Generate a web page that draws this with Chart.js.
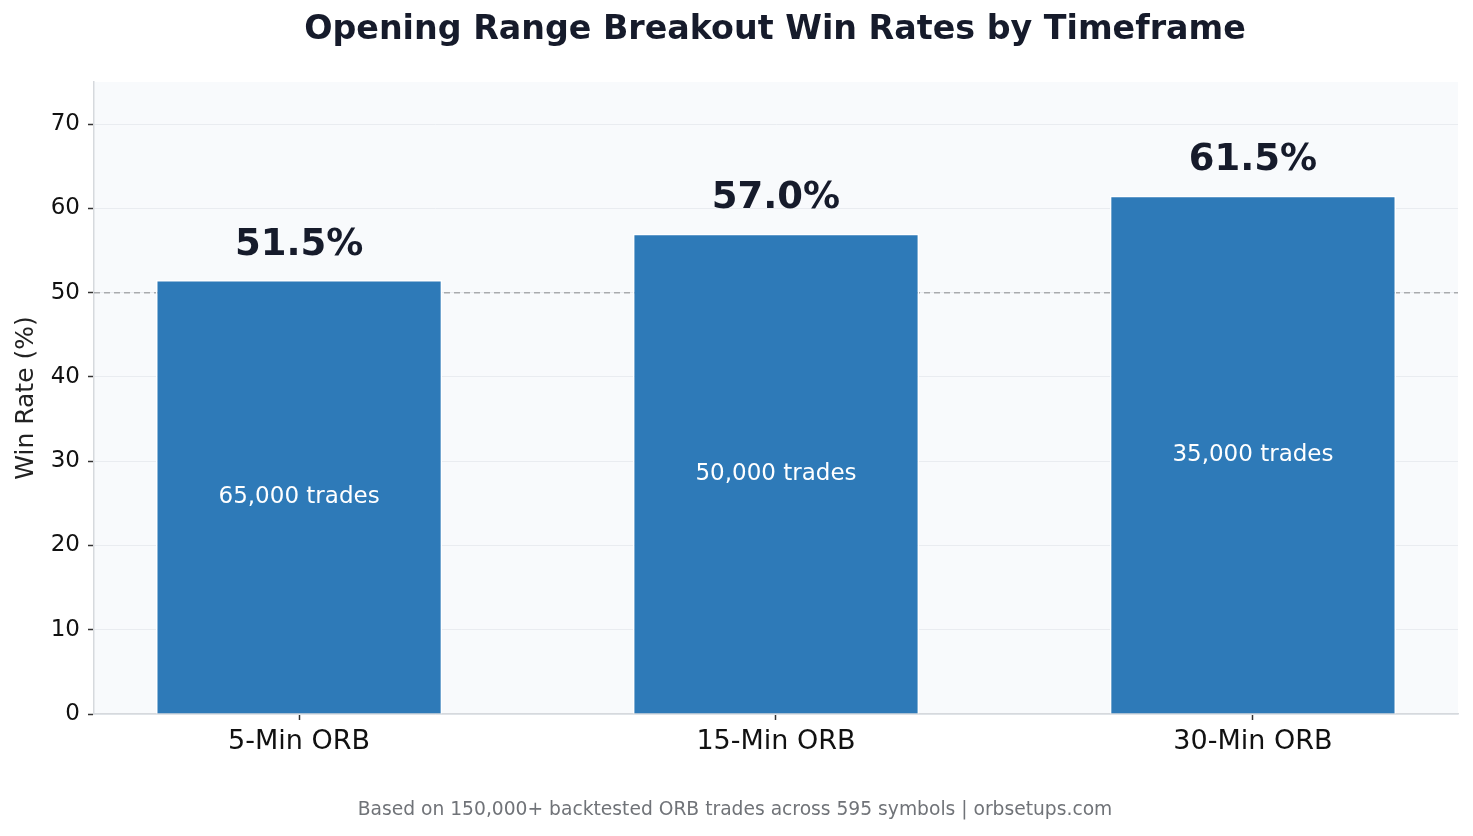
<!DOCTYPE html>
<html>
<head>
<meta charset="utf-8">
<script src="https://cdn.jsdelivr.net/npm/chart.js@4.4.1/dist/chart.umd.min.js"></script>
<style>
  html, body { margin: 0; padding: 0; background: #ffffff; }
  #wrap { width: 1473px; height: 836px; }
</style>
</head>
<body>
<div id="wrap"><canvas id="orbChart" width="1473" height="836"></canvas></div>
<script>
// data
const timeframes = ["5-Min ORB", "15-Min ORB", "30-Min ORB"];
const winRates = [51.5, 57.0, 61.5];
const tradeCounts = ["65,000 trades", "50,000 trades", "35,000 trades"];
const yTicks = [0, 10, 20, 30, 40, 50, 60, 70];

const chartTitle = "Opening Range Breakout Win Rates by Timeframe";
const footNote = "Based on 150,000+ backtested ORB trades across 595 symbols | orbsetups.com";
const FONT = "'DejaVu Sans', 'Liberation Sans', sans-serif";

const points = [];
winRates.forEach((v, i) => {
    points.push({ x: i, y: v });
});

// fond du graphique, ligne 50% et textes
const decorPlugin = {
    id: 'decor',
    beforeDraw(chart) {
        const ctx = chart.ctx;
        const a = chart.chartArea;
        ctx.save();
        ctx.fillStyle = '#ffffff';
        ctx.fillRect(0, 0, chart.width, chart.height);
        ctx.fillStyle = '#f8fafc';
        ctx.fillRect(a.left, a.top, a.right - a.left, a.bottom - a.top);
        ctx.restore();
    },
    beforeDatasetsDraw(chart) {
        const ctx = chart.ctx;
        const a = chart.chartArea;
        const y = chart.scales.y.getPixelForValue(50);
        ctx.save();
        ctx.strokeStyle = '#a9abae';
        ctx.lineWidth = 1.5;
        ctx.setLineDash([6, 4]);
        ctx.beginPath();
        ctx.moveTo(a.left, y);
        ctx.lineTo(a.right, y);
        ctx.stroke();
        ctx.restore();
    },
    afterDatasetsDraw(chart) {
        const ctx = chart.ctx;
        const xs = chart.scales.x;
        const ys = chart.scales.y;
        ctx.save();
        ctx.textAlign = 'center';
        winRates.forEach((v, i) => {
            const x = xs.getPixelForValue(i);
            ctx.fillStyle = '#161b2b';
            ctx.font = "bold 37px " + FONT;
            ctx.textBaseline = 'alphabetic';
            ctx.fillText(v.toFixed(1) + '%', x, ys.getPixelForValue(v + 3));
            ctx.fillStyle = '#ffffff';
            ctx.font = "23px " + FONT;
            ctx.textBaseline = 'middle';
            ctx.fillText(tradeCounts[i], x, ys.getPixelForValue(v / 2));
        });
        ctx.restore();
    },
    afterDraw(chart) {
        const ctx = chart.ctx;
        ctx.save();
        ctx.textAlign = 'center';
        ctx.textBaseline = 'middle';
        ctx.fillStyle = '#161b2b';
        ctx.font = "bold 33.3px " + FONT;
        ctx.fillText(chartTitle, 775, 30);
        ctx.fillStyle = '#707378';
        ctx.font = "18.7px " + FONT;
        ctx.fillText(footNote, 735, 810);
        ctx.restore();
    }
};

const config = {
    type: 'bar',
    data: {
        datasets: [{
            label: 'Win Rate',
            data: points,
            backgroundColor: '#2e7ab8',
            borderColor: '#ffffff',
            borderWidth: 1.5,
            barPercentage: 0.6,
            categoryPercentage: 1.0
        }]
    },
    plugins: [decorPlugin],
    options: {
        responsive: false,
        animation: false,
        layout: { padding: { top: 82, right: 15, bottom: 0, left: 0 } },
        plugins: {
            legend: { display: false },
            tooltip: { enabled: false }
        },
        scales: {
            x: {
                type: 'linear',
                offset: false,
                min: -0.43,
                max: 2.43,
                afterBuildTicks(scale) {
                    scale.ticks = timeframes.map((t, i) => ({ value: i }));
                },
                afterFit(scale) { scale.height = 122; },
                ticks: {
                    callback: (val) => timeframes[val],
                    color: '#111111',
                    font: { family: FONT, size: 27 },
                    padding: 6,
                    maxRotation: 0,
                    autoSkip: false
                },
                grid: {
                    offset: false,
                    drawOnChartArea: false,
                    drawTicks: true,
                    tickLength: 6,
                    tickColor: '#333333',
                    tickWidth: 1.5
                },
                border: { color: '#d6d9dd', width: 1.5 }
            },
            y: {
                min: 0,
                max: 75,
                afterBuildTicks(scale) {
                    scale.ticks = yTicks.map(v => ({ value: v }));
                },
                afterFit(scale) { scale.width = 94; },
                title: {
                    display: true,
                    text: 'Win Rate (%)',
                    color: '#222222',
                    font: { family: FONT, size: 25 },
                    padding: { top: 11, bottom: 0 }
                },
                ticks: {
                    color: '#111111',
                    font: { family: FONT, size: 23 },
                    padding: 8
                },
                grid: {
                    color: '#e9ecf0',
                    lineWidth: 1,
                    tickLength: 6,
                    tickColor: '#333333',
                    tickWidth: 1.5
                },
                border: { color: '#d6d9dd', width: 1.5 }
            }
        }
    }
};

const myChart = new Chart(document.getElementById('orbChart'), config);
</script>
</body>
</html>
